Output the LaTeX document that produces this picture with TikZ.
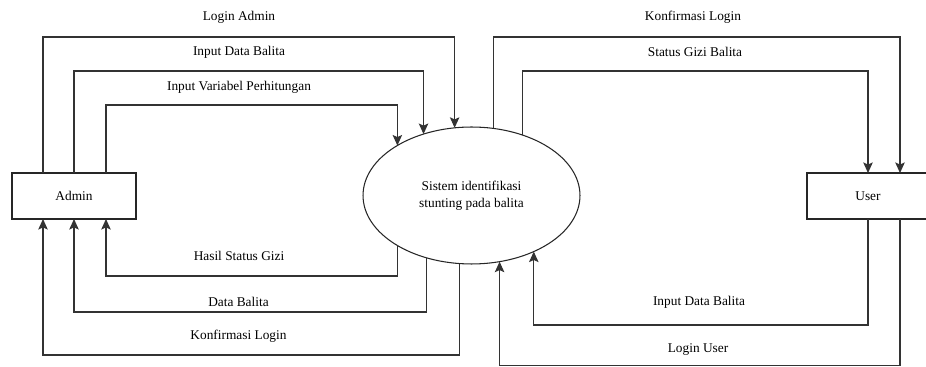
\documentclass[tikz,border=0pt]{standalone}
\usepackage{fontspec}
\setmainfont{Liberation Serif}
\usetikzlibrary{shapes.geometric, positioning, arrows.meta, calc}
\tikzset{
  entity/.style={rectangle, minimum height=0.92cm, text centered, draw=black!85, line width=0.6pt, outer sep=0pt},
  process/.style={ellipse, minimum width=4.34cm, minimum height=2.74cm, align=center, draw=black!85, line width=0.6pt, outer sep=0pt},
  flow/.style={line width=0.65pt, draw=black!80, -{Stealth[length=6pt,width=5.4pt,inset=1.2pt]}},
  backflow/.style={line width=0.65pt, draw=black!80, {Stealth[length=6pt,width=5.4pt,inset=1.2pt]}-},
  lbl/.style={inner sep=0pt}
}

\begin{document}
\begin{tikzpicture}[
            x=0.02cm, y=-0.02cm,
            every node/.style={font=\fontsize{7.6}{9.6}\selectfont}
        ]
            \path[clip, use as bounding box] (0,0) rectangle (926,367);

            % Entitas dan proses
            \node (admin) [entity, minimum width=2.48cm] at (74,196) {Admin};
            \node (sys) [process] at (471.5,195.5) {Sistem identifikasi\\stunting pada balita};
            \node (user) [entity, minimum width=2.44cm] at (868,196) {User};

            % Aliran data Admin -> Sistem
            \draw [flow] ([xshift=-0.62cm]admin.north) -- ++(0,-136) -| (sys.104.5);
            \draw [flow] (admin.north) -- ++(0,-102) -| (sys.128.4);
            \draw [flow] ([xshift=0.64cm]admin.north) -- ++(0,-68) -| (sys.146.9);

            % Aliran data Sistem -> Admin
            \draw [backflow] ([xshift=0.64cm]admin.south) -- ++(0,57) -| (sys.214.4);
            \draw [backflow] (admin.south) -- ++(0,93) -| (sys.234.5);
            \draw [backflow] ([xshift=-0.62cm]admin.south) -- ++(0,136) -| (sys.260.4);

            % Aliran data Sistem -> User
            \draw [backflow] ([xshift=0.64cm]user.north) -- ++(0,-136) -| (sys.72.2);
            \draw [backflow] (user.north) -- ++(0,-102) -| (sys.50.2);

            % Aliran data User -> Sistem
            \draw [flow] (user.south) -- ++(0,106) -| (sys.318.1);
            \draw [flow] ([xshift=0.64cm]user.south) -- ++(0,146.5) -| (sys.293.3);

            % Label
            \node (loginA) [lbl] at (239,17) {Login Admin};
            \node (inputA) [lbl] at (239,52) {Input Data Balita};
            \node (varA) [lbl] at (239,87) {Input Variabel Perhitungan};
            \node (hasilA) [lbl] at (239,256) {Hasil Status Gizi};
            \node (dataA) [lbl] at (238.5,302) {Data Balita};
            \node (konfA) [lbl] at (238.5,336) {Konfirmasi Login};
            \node (konfU) [lbl] at (693,17) {Konfirmasi Login};
            \node (giziU) [lbl] at (695,52) {Status Gizi Balita};
            \node (inputU) [lbl] at (699,302) {Input Data Balita};
            \node (loginU) [lbl] at (698,350) {Login User};

        \end{tikzpicture}
\end{document}
